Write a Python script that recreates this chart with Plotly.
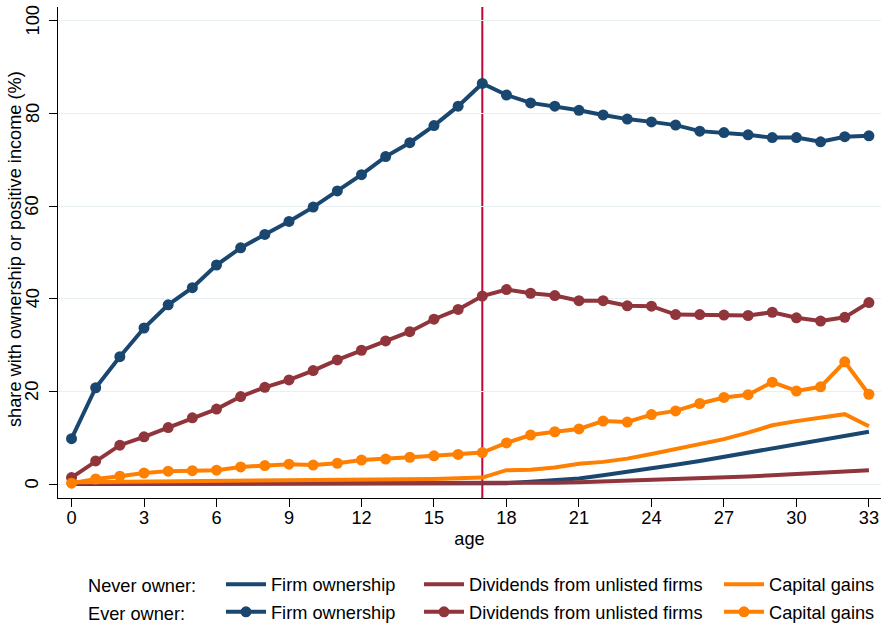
import plotly.graph_objects as go

ages = list(range(34))

ever_firm = [9.8, 20.8, 27.5, 33.7, 38.7, 42.4, 47.3, 51.0, 53.9, 56.7, 59.8, 63.3, 66.8, 70.7,
             73.7, 77.4, 81.6, 86.5, 84.0, 82.3, 81.6, 80.7, 79.7, 78.8, 78.2, 77.5, 76.2, 75.9,
             75.4, 74.8, 74.8, 73.9, 75.0, 75.2]
ever_div = [1.4, 5.0, 8.4, 10.2, 12.2, 14.3, 16.2, 18.9, 20.9, 22.5, 24.5, 26.8, 28.9, 30.9,
            32.9, 35.6, 37.7, 40.6, 42.0, 41.2, 40.7, 39.6, 39.6, 38.5, 38.4, 36.6, 36.6, 36.5,
            36.4, 37.1, 35.9, 35.2, 36.0, 39.2]
ever_cap = [0.2, 1.1, 1.7, 2.4, 2.8, 2.9, 3.0, 3.7, 4.0, 4.3, 4.1, 4.5, 5.2, 5.4,
            5.8, 6.1, 6.4, 6.8, 8.9, 10.6, 11.3, 11.9, 13.6, 13.4, 15.0, 15.8, 17.4, 18.7,
            19.3, 22.0, 20.1, 21.0, 26.4, 19.4]

never_firm = [0.0, 0.0, 0.0, 0.0, 0.0, 0.0, 0.0, 0.0, 0.0, 0.0, 0.0, 0.0, 0.0, 0.0,
              0.0, 0.0, 0.0, 0.05, 0.2, 0.5, 0.85, 1.2, 1.9, 2.6, 3.4, 4.2, 5.0, 5.9,
              6.8, 7.8, 8.8, 9.7, 10.5, 11.3]
never_div = [0.15, 0.15, 0.15, 0.15, 0.15, 0.15, 0.15, 0.15, 0.15, 0.15, 0.15, 0.15, 0.15, 0.15,
             0.15, 0.15, 0.15, 0.15, 0.15, 0.2, 0.3, 0.4, 0.55, 0.7, 0.85, 1.0, 1.2, 1.4,
             1.65, 1.9, 2.2, 2.45, 2.7, 3.0]
never_cap = [0.4, 0.45, 0.5, 0.5, 0.55, 0.55, 0.6, 0.6, 0.6, 0.65, 0.7, 0.75, 0.8, 0.9,
             1.0, 1.1, 1.25, 1.4, 3.0, 3.1, 3.6, 4.4, 4.8, 5.5, 6.5, 7.5, 8.6, 9.7,
             11.1, 12.7, 13.6, 14.4, 15.1, 12.5]

x_ticks = list(range(0, 34, 3))
y_ticks = [0, 20, 40, 60, 80, 100]
cutoff_age = 17

labels = ["Firm ownership", "Dividends from unlisted firms", "Capital gains"]
row_labels = ["Never owner:", "Ever owner:"]

NAVY = "#1a476f"
MAROON = "#90353b"
ORANGE = "#ff7f00"
CRAN = "#c10534"
FONT = "Liberation Sans, Arial, sans-serif"
FS = 18.2

W, H = 881, 626
L, R, T, B = 58, 0, 7, 128
PW, PH = W - L - R, H - T - B

fig = go.Figure()
colors = [NAVY, MAROON, ORANGE]
never = [never_firm, never_div, never_cap]
ever = [ever_firm, ever_div, ever_cap]

# legend placement (container pixels): left edge of each column, top of each row
col_left = [221, 419, 719]
row_top = [566, 593.5]

leg_layout = {}
k = 0
for r, (series, mode) in enumerate([(never, "lines"), (ever, "lines+markers")]):
    for i in range(3):
        k += 1
        lname = "legend" if k == 1 else f"legend{k}"
        kw = dict(x=ages, y=series[i], mode=mode, name=labels[i],
                  line=dict(color=colors[i], width=4), legend=lname)
        if mode != "lines":
            kw["marker"] = dict(color=colors[i], size=11)
        fig.add_trace(go.Scatter(**kw))
        leg_layout[lname] = dict(orientation="v", xref="container", yref="container",
                                 x=col_left[i] / W, y=1 - row_top[r] / H,
                                 xanchor="left", yanchor="top", itemwidth=40,
                                 font=dict(family=FONT, size=FS, color="black"),
                                 bgcolor="rgba(0,0,0,0)", borderwidth=0)
fig.update_layout(**leg_layout)

fig.add_shape(type="line", xref="x", yref="paper", x0=cutoff_age, x1=cutoff_age, y0=0, y1=1,
              line=dict(color=CRAN, width=2), layer="below")

for lab, yy in zip(row_labels, [586, 613.5]):
    fig.add_annotation(text=lab, xref="paper", yref="paper",
                       x=(86 - L) / PW, y=(H - B - yy) / PH,
                       xanchor="left", yanchor="middle", showarrow=False,
                       font=dict(family=FONT, size=FS, color="black"))

# rotated y tick labels, placed on the y axis scale
for v in y_ticks:
    fig.add_annotation(text=str(v), xref="paper", yref="y", x=(32.5 - L) / PW, y=v,
                       xanchor="center", yanchor="middle", textangle=-90, showarrow=False,
                       font=dict(family=FONT, size=FS, color="black"))

fig.add_annotation(text="share with ownership or positive income (%)", xref="paper", yref="paper",
                   x=(15 - L) / PW, y=(H - B - 249) / PH,
                   xanchor="center", yanchor="middle", textangle=-90,
                   showarrow=False, font=dict(family=FONT, size=FS, color="black"))

fig.update_layout(
    width=W, height=H,
    margin=dict(l=L, r=R, t=T, b=B, autoexpand=False),
    paper_bgcolor="white", plot_bgcolor="white",
    font=dict(family=FONT, size=FS, color="black"),
    showlegend=True,
    xaxis=dict(range=[-0.56, 33.5], tickvals=x_ticks, ticks="outside", ticklen=8,
               tickcolor="black", tickwidth=1.3, showgrid=False, zeroline=False,
               showline=True, linecolor="black", linewidth=1.3, ticklabelstandoff=-5,
               tickfont=dict(family=FONT, size=FS, color="black"),
               title=dict(text="age", font=dict(family=FONT, size=FS, color="black"), standoff=5)),
    yaxis=dict(range=[-3.0, 103.0], tickvals=y_ticks, ticks="outside", ticklen=8,
               tickcolor="black", tickwidth=1.3, showgrid=True, gridcolor="#e8eff2", gridwidth=1,
               zeroline=False, showline=True, linecolor="black", linewidth=1.3,
               showticklabels=False),
)

fig.write_html("out.html", post_script="document.body.style.margin='0';",
               config={"displayModeBar": False})
